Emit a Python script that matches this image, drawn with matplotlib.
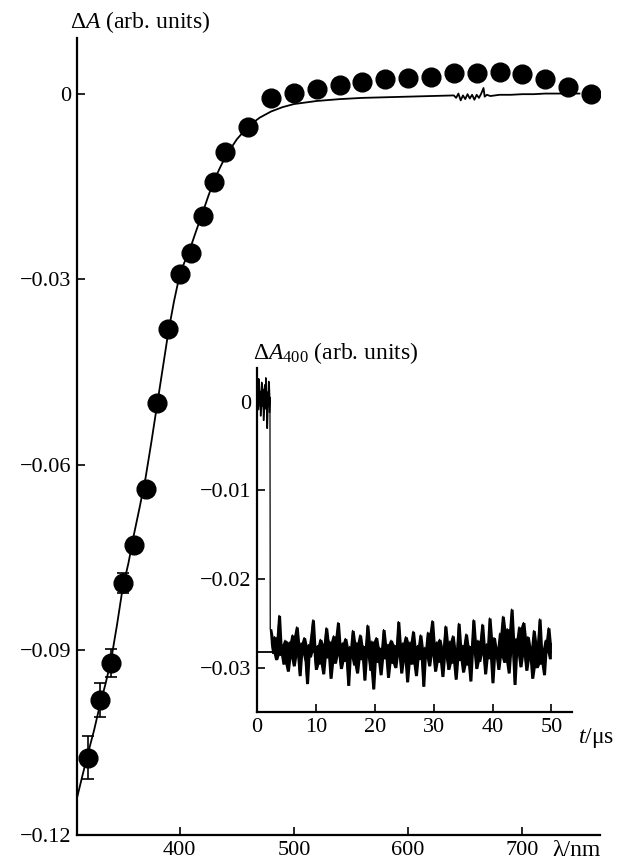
import numpy as np
import matplotlib
matplotlib.use('Agg')
import matplotlib.pyplot as plt
from matplotlib.ticker import FixedLocator, FuncFormatter

plt.rcParams['font.family'] = ['Liberation Serif', 'DejaVu Serif']
plt.rcParams['mathtext.fontset'] = 'custom'
plt.rcParams['mathtext.rm'] = 'Liberation Serif'
plt.rcParams['mathtext.it'] = 'Liberation Serif:italic'
plt.rcParams['axes.unicode_minus'] = True

# main spectrum: points (nm, dA)
wl_pts = [320, 330, 340, 350, 360, 370, 380, 390, 400, 410, 420, 430, 440, 460,
          480, 500, 520, 540, 560, 580, 600, 620, 640, 660, 680, 700, 720, 740, 760]
dA_pts = [-0.1075, -0.0981, -0.0921, -0.0792, -0.0730, -0.0640, -0.0500, -0.0380,
          -0.0292, -0.0257, -0.0198, -0.0142, -0.0094, -0.0053, -0.0006, 0.0002,
          0.0008, 0.0015, 0.0019, 0.0024, 0.0026, 0.0028, 0.0034, 0.0034, 0.0036,
          0.0032, 0.0024, 0.0011, 0.0000]
err_wl = [320, 330, 340, 350]
err_dA = [-0.1075, -0.0981, -0.0921, -0.0792]
err_size = [0.0035, 0.0028, 0.0023, 0.0016]

# main spectrum: solid trace
wl_line = [310, 315, 320, 325, 330, 335, 340, 345, 350, 355, 360, 365, 370, 375, 380,
           385, 390, 395, 400, 405, 410, 415, 420, 425, 430, 435, 440, 450, 460, 470,
           480, 490, 500, 520, 540, 560, 580, 600, 620, 640, 642, 644, 646, 648, 650,
           652, 654, 656, 658, 660, 662, 664, 666, 667, 669, 672, 680, 690, 700, 710,
           720, 730, 740, 750]
dA_line = [-0.1140, -0.1102, -0.1065, -0.1030, -0.0990, -0.0955, -0.0915, -0.0860,
           -0.0800, -0.0760, -0.0712, -0.0668, -0.0622, -0.0565, -0.0505, -0.0445,
           -0.0385, -0.0335, -0.0292, -0.0268, -0.0245, -0.0218, -0.0192, -0.0165,
           -0.0140, -0.0120, -0.0101, -0.0073, -0.0052, -0.0038, -0.0028, -0.0021,
           -0.0016, -0.0011, -0.0008, -0.0006, -0.0005, -0.0004, -0.0003, -0.0002,
           -0.0006, 0.0001, -0.0010, -0.0002, -0.0008, 0.0000, -0.0007, -0.0001,
           -0.0009, -0.0001, -0.0006, 0.0001, 0.0010, -0.0004, -0.0001, -0.0003,
           -0.0001, -0.0001, 0.0000, 0.0000, 0.0001, 0.0001, 0.0001, 0.0001]

# inset kinetics at 400 nm (values in 1e-3 arb. units)
pre_vals = [0.4, 1.8, -0.9, 2.6, -0.3, 1.2, -1.6, 0.8, 2.2, -0.5, 1.4, -2.1, 0.6,
            1.9, -0.8, 2.7, 0.2, -3.0, 1.1, -0.4, 2.3, -1.2, 0.5]
post_vals = [
    -25.6, -27.2, -28.4, -26.5, -29.1, -27.0, -24.1, -28.6, -27.4, -29.6, -26.9, -28.3,
    -30.4, -27.1, -28.9, -26.3, -29.8, -27.6, -25.4, -28.7, -30.9, -27.2, -28.5, -26.6,
    -29.3, -31.8, -27.4, -28.8, -26.2, -24.6, -28.1, -30.2, -27.5, -29.6, -26.8, -28.4,
    -30.7, -27.3, -25.5, -28.9, -27.0, -31.2, -28.2, -26.4, -29.5, -27.8, -24.9, -28.6,
    -30.1, -27.2, -29.3, -26.7, -28.5, -32.0, -27.6, -28.9, -25.8, -29.7, -27.1, -30.6,
    -28.0, -26.3, -29.1, -27.5, -31.4, -28.3, -25.2, -28.8, -30.3, -27.0, -32.4, -28.1,
    -26.6, -29.4, -27.7, -30.8, -28.2, -25.7, -29.0, -27.3, -31.1, -28.6, -26.9, -29.5,
    -27.4, -30.0, -28.1, -24.8, -28.7, -30.6, -27.2, -29.3, -26.5, -31.6, -28.0, -27.1,
    -29.6, -25.9, -28.4, -30.9, -27.5, -29.1, -26.3, -28.8, -32.1, -27.7, -28.9, -26.0,
    -29.8, -27.3, -24.7, -28.6, -30.4, -27.1, -29.4, -26.8, -28.3, -31.0, -27.6, -25.3,
    -28.9, -30.2, -27.0, -29.5, -26.4, -28.7, -31.3, -27.8, -25.0, -29.2, -27.4, -30.5,
    -28.1, -26.2, -29.7, -27.5, -31.5, -28.4, -24.6, -28.0, -30.1, -26.9, -29.3, -27.2,
    -25.1, -28.5, -30.7, -27.3, -29.0, -24.4, -28.2, -31.7, -26.6, -28.9, -27.7, -30.2,
    -26.1, -28.8, -24.2, -29.4, -27.0, -25.6, -30.6, -27.9, -23.4, -28.3, -31.9, -26.7,
    -28.6, -25.4, -29.9, -27.2, -24.9, -28.7, -30.3, -26.5, -29.1, -27.6, -31.2, -25.8,
    -28.4, -30.0, -27.1, -24.5, -29.6, -27.8, -30.8, -26.9, -28.2, -25.5, -29.0, -27.3]
pre_t = np.arange(len(pre_vals)) * 0.1
post_t = 2.25 + np.arange(len(post_vals)) * 0.25
base_level = -0.0282

t_kin = np.concatenate([pre_t, post_t])
dA_kin = np.array(pre_vals + post_vals) * 1e-3

# local max/min of the recorded trace (3-sample window) to draw the dense band
def band(v):
    v = np.asarray(v) * 1e-3
    p = np.pad(v, 1, mode='edge')
    hi = np.max(np.vstack([p[:-2], p[1:-1], p[2:]]), axis=0)
    lo = np.min(np.vstack([p[:-2], p[1:-1], p[2:]]), axis=0)
    return hi, lo

W, H = 628, 861
fig = plt.figure(figsize=(W / 100, H / 100), dpi=100)

def fmt(v, pos):
    if abs(v) < 1e-9:
        return '0'
    return ('%.2f' % v).replace('-', '\u2212')

def fmt2(v, pos):
    return '%d' % round(v)

# main axes
ax = fig.add_axes([77 / W, 1 - 835 / H, (600 - 77) / W, (835 - 38) / H])
ax.plot(wl_line, dA_line, color='k', lw=1.3, zorder=2)
ax.errorbar(err_wl, err_dA, yerr=err_size, fmt='none', ecolor='k', elinewidth=1.2,
            capsize=4, capthick=1.2, zorder=2)
ax.plot(wl_pts, dA_pts, 'o', color='k', ms=13.5, zorder=3)
ax.set_xlim(310, 768)
ax.set_ylim(-0.12, 0.0091)
ax.xaxis.set_major_locator(FixedLocator([400, 500, 600, 700]))
ax.yaxis.set_major_locator(FixedLocator([0, -0.03, -0.06, -0.09, -0.12]))
ax.yaxis.set_major_formatter(FuncFormatter(fmt))
ax.xaxis.set_major_formatter(FuncFormatter(fmt2))
for s in ['top', 'right']:
    ax.spines[s].set_visible(False)
for s in ['left', 'bottom']:
    ax.spines[s].set_linewidth(1.6)
ax.tick_params(direction='in', length=6, width=1.2, labelsize=16, pad=4)
ax.patch.set_alpha(0)

fig.text(70 / W, 1 - 22 / H, r'$\Delta A$ (arb. units)', fontsize=17, ha='left', va='center')
fig.text(552 / W, 1 - 850 / H, '\u03bb/nm', fontsize=17, ha='left', va='center')

# inset
ax2 = fig.add_axes([257 / W, 1 - 712 / H, (572 - 257) / W, (712 - 368) / H])
ax2.plot([0, 50], [base_level, base_level], color='k', lw=1.3, zorder=1)
hi, lo = band(post_vals)
ax2.fill_between(post_t, lo, hi, color='k', lw=0, zorder=2)
hi0, lo0 = band(pre_vals)
ax2.fill_between(pre_t, lo0, hi0, color='k', lw=0, zorder=2)
ax2.plot(t_kin, dA_kin, color='k', lw=0.9, zorder=3)
ax2.set_xlim(0, 53.5)
ax2.set_ylim(-0.035, 0.0038)
ax2.xaxis.set_major_locator(FixedLocator([0, 10, 20, 30, 40, 50]))
ax2.yaxis.set_major_locator(FixedLocator([0, -0.01, -0.02, -0.03]))
ax2.yaxis.set_major_formatter(FuncFormatter(fmt))
ax2.xaxis.set_major_formatter(FuncFormatter(fmt2))
for s in ['top', 'right']:
    ax2.spines[s].set_visible(False)
for s in ['left', 'bottom']:
    ax2.spines[s].set_linewidth(1.6)
ax2.tick_params(direction='in', length=6, width=1.2, labelsize=16, pad=4)
ax2.patch.set_alpha(0)

fig.text(253 / W, 1 - 353 / H, r'$\Delta A_{400}$ (arb. units)', fontsize=17, ha='left', va='center')
fig.text(578 / W, 1 - 738 / H, '$t$/\u03bcs', fontsize=17, ha='left', va='center')

fig.savefig('out.png', dpi=100)
